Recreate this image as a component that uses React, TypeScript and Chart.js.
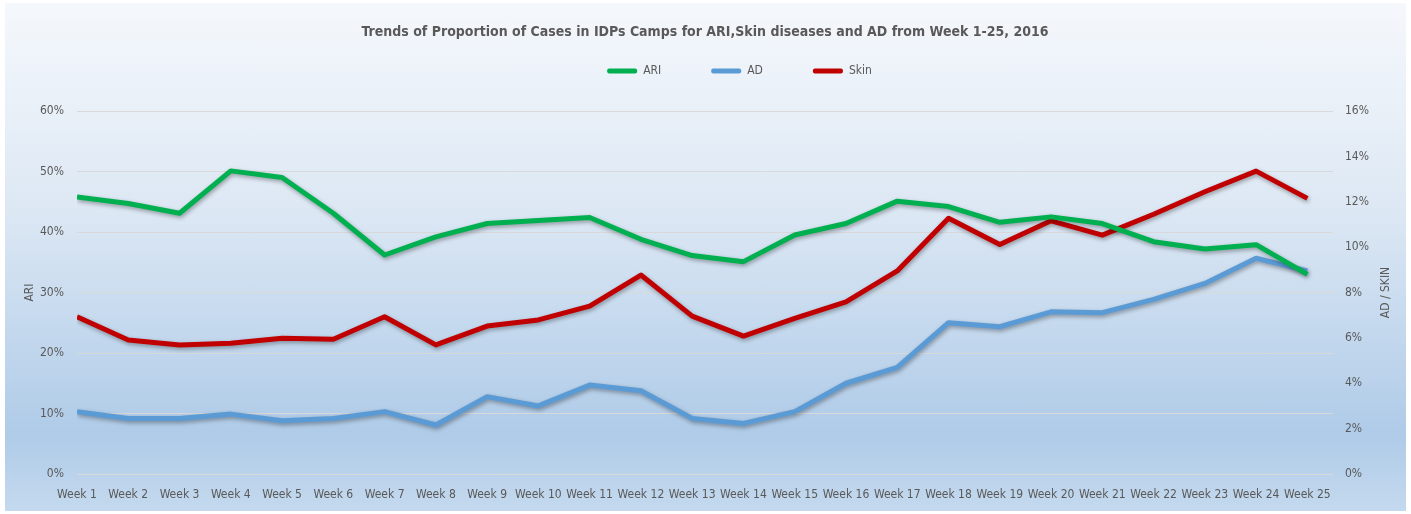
import React, { useEffect, useRef } from "react";
import { Chart, registerables } from "chart.js";

Chart.register(...registerables);

const categories = [
  "Week 1", "Week 2", "Week 3", "Week 4", "Week 5", "Week 6", "Week 7", "Week 8", "Week 9", "Week 10",
  "Week 11", "Week 12", "Week 13", "Week 14", "Week 15", "Week 16", "Week 17", "Week 18", "Week 19", "Week 20",
  "Week 21", "Week 22", "Week 23", "Week 24", "Week 25",
];

const ariValues = [45.8, 44.7, 43.1, 50.1, 49.0, 43.1, 36.2, 39.2, 41.4, 41.9, 42.4, 38.8, 36.1, 35.1, 39.5, 41.4, 45.1, 44.2, 41.6, 42.5, 41.4, 38.4, 37.2, 37.9, 33.0];
const adValues = [2.75, 2.45, 2.45, 2.64, 2.35, 2.45, 2.75, 2.16, 3.41, 3.0, 3.92, 3.67, 2.45, 2.23, 2.75, 4.0, 4.7, 6.67, 6.49, 7.15, 7.11, 7.7, 8.4, 9.51, 8.95];
const skinValues = [6.93, 5.91, 5.69, 5.76, 5.98, 5.94, 6.93, 5.69, 6.52, 6.79, 7.4, 8.77, 6.96, 6.08, 6.86, 7.59, 8.95, 11.27, 10.12, 11.16, 10.53, 11.45, 12.44, 13.35, 12.15];

const leftTicks = [0, 10, 20, 30, 40, 50, 60];
const rightTicks = [0, 2, 4, 6, 8, 10, 12, 14, 16];

const titleText = "Trends of Proportion of Cases in IDPs Camps for ARI,Skin diseases and AD from Week 1-25, 2016";
const leftAxisTitle = "ARI";
const rightAxisTitle = "AD / SKIN";

const FONT = "'Liberation Sans Narrow', 'DejaVu Sans Condensed', 'Open Sans', sans-serif";
const TEXT = "#595959";

const shadowPlugin = {
  id: "lineShadow",
  beforeDatasetsDraw(chart: any) {
    const ctx = chart.ctx;
    ctx.save();
    ctx.shadowColor = "rgba(0,0,0,0.35)";
    ctx.shadowBlur = 4;
    ctx.shadowOffsetX = 1;
    ctx.shadowOffsetY = 2;
  },
  afterDatasetsDraw(chart: any) {
    chart.ctx.restore();
  },
};

const axisTitlePlugin = {
  id: "axisTitles",
  afterDraw(chart: any) {
    const { ctx, chartArea } = chart;
    const cy = (chartArea.top + chartArea.bottom) / 2;
    ctx.save();
    ctx.fillStyle = TEXT;
    ctx.font = `12px ${FONT}`;
    ctx.textAlign = "center";
    ctx.textBaseline = "middle";
    [[30, leftAxisTitle], [1386, rightAxisTitle]].forEach(([x, t]) => {
      ctx.save();
      ctx.translate(x as number, cy);
      ctx.rotate(-Math.PI / 2);
      ctx.fillText(t as string, 0, 0);
      ctx.restore();
    });
    ctx.restore();
  },
};

export default function App() {
  const canvasRef = useRef<HTMLCanvasElement | null>(null);

  useEffect(() => {
    document.body.style.margin = "0";
    const canvas = canvasRef.current;
    if (!canvas) return;

    // widest left tick label, so mirrored labels can be right-aligned just left of the plot
    const mctx = canvas.getContext("2d")!;
    mctx.font = `12px ${FONT}`;
    const widest = Math.max(...leftTicks.map((t) => mctx.measureText(`${t}%`).width));

    const chart = new Chart(canvas, {
      type: "line",
      data: {
        labels: categories.map((_, i) => i),
        datasets: [
          { label: "ARI", data: ariValues, yAxisID: "y", borderColor: "#00b050", backgroundColor: "#00b050" },
          { label: "AD", data: adValues, yAxisID: "y1", borderColor: "#5b9bd5", backgroundColor: "#5b9bd5" },
          { label: "Skin", data: skinValues, yAxisID: "y1", borderColor: "#c00000", backgroundColor: "#c00000" },
        ],
      },
      options: {
        responsive: false,
        animation: false,
        layout: { padding: { left: 68, right: 0, top: 0, bottom: 0 } },
        elements: {
          line: { borderWidth: 5, tension: 0, borderJoinStyle: "round", borderCapStyle: "butt" },
          point: { radius: 0, hoverRadius: 0 },
        },
        plugins: {
          tooltip: { enabled: false },
          legend: {
            position: "top",
            weight: 3000,
            fullSize: true,
            align: "center",
            title: { display: true, text: " ", font: { size: 10 }, padding: { top: 0, bottom: 3 } },
            labels: {
              boxWidth: 30,
              boxHeight: 5,
              padding: 50,
              color: TEXT,
              font: { size: 12, family: FONT },
              generateLabels: (c: any) =>
                Chart.defaults.plugins.legend.labels.generateLabels(c).map((l: any) => ({ ...l, lineWidth: 0, borderRadius: 2 })),
            },
          },
          title: {
            display: true,
            text: titleText,
            fullSize: false,
            color: TEXT,
            font: { size: 14, weight: "bold", family: FONT },
            padding: { top: -63, bottom: 70.2 },
          },
        },
        scales: {
          x: {
            type: "linear",
            min: 0,
            max: 24.5,
            grid: { display: false, drawTicks: false },
            border: { display: false },
            ticks: {
              stepSize: 1,
              includeBounds: false,
              autoSkip: false,
              maxRotation: 0,
              padding: 14,
              color: TEXT,
              font: { size: 12, family: FONT },
              callback: (v: any) => (Number.isInteger(v) && categories[v] ? categories[v] : ""),
            },
            afterFit: (s: any) => { s.height = 40; },
          },
          y: {
            position: "left",
            min: 0,
            max: leftTicks[leftTicks.length - 1],
            grid: { color: "#d9d9d9", lineWidth: 1, drawTicks: false },
            border: { display: false },
            ticks: {
              stepSize: leftTicks[1] - leftTicks[0],
              mirror: true,
              crossAlign: "far",
              padding: -(13 + widest),
              color: TEXT,
              font: { size: 12, family: FONT },
              callback: (v: any) => `${v}%`,
            },
            afterFit: (s: any) => { s.width = 9; },
          },
          y1: {
            position: "right",
            min: 0,
            max: rightTicks[rightTicks.length - 1],
            grid: { display: false, drawTicks: false },
            border: { display: false },
            ticks: {
              stepSize: rightTicks[1] - rightTicks[0],
              padding: 12,
              color: TEXT,
              font: { size: 12, family: FONT },
              callback: (v: any) => `${v}%`,
            },
            afterFit: (s: any) => { s.width = 78; },
          },
        },
      },
      plugins: [shadowPlugin, axisTitlePlugin],
    } as any);

    return () => chart.destroy();
  }, []);

  return (
    <div style={{ position: "relative", width: 1411, height: 514, background: "#ffffff", overflow: "hidden" }}>
      <div
        style={{
          position: "absolute",
          left: 5,
          top: 3,
          width: 1401,
          height: 508,
          background: "linear-gradient(to bottom, #f5f8fc 0%, #dde8f4 40%, #afcbe8 85%, #c4d9ee 100%)",
        }}
      />
      <canvas ref={canvasRef} width={1411} height={514} style={{ position: "absolute", left: 0, top: 0, display: "block" }} />
    </div>
  );
}
